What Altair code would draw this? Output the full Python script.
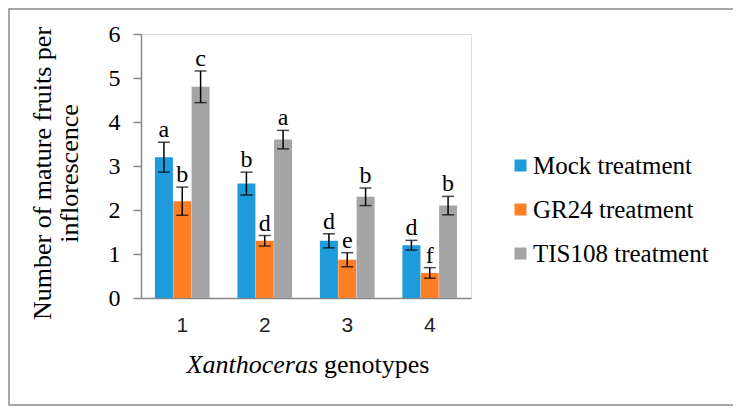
import altair as alt
import pandas as pd

genotypes = ["1", "2", "3", "4"]
treatments = ["Mock treatment", "GR24 treatment", "TIS108 treatment"]
colors = ["#1E9BDA", "#FF7F27", "#A5A5A5"]

mock = [3.2, 2.6, 1.3, 1.2]
mock_err = [0.34, 0.26, 0.16, 0.11]
mock_letters = ["a", "b", "d", "d"]

gr24 = [2.2, 1.3, 0.87, 0.57]
gr24_err = [0.32, 0.12, 0.16, 0.12]
gr24_letters = ["b", "d", "e", "f"]

tis = [4.8, 3.6, 2.3, 2.1]
tis_err = [0.36, 0.21, 0.2, 0.21]
tis_letters = ["c", "a", "b", "b"]

rows = []
for t, vals, errs, lets in zip(treatments, [mock, gr24, tis], [mock_err, gr24_err, tis_err],
                               [mock_letters, gr24_letters, tis_letters]):
    for g, v, e, l in zip(genotypes, vals, errs, lets):
        rows.append({"genotype": g, "treatment": t, "value": v, "err": e, "letter": l})
df = pd.DataFrame(rows)

SERIF = "Liberation Serif"

x = alt.X("genotype:N", sort=genotypes,
          scale=alt.Scale(paddingInner=0.3333, paddingOuter=0.1667),
          axis=alt.Axis(title=None, labelAngle=0, ticks=False, tickSize=0, labelPadding=16,
                        labelFont="Liberation Sans", labelFontSize=21, labelColor="#222222",
                        domainColor="#888888", domainWidth=1.5, grid=False))
xo = alt.XOffset("treatment:N", sort=treatments, scale=alt.Scale(paddingInner=0, paddingOuter=0))
y_axis = alt.Axis(values=[0, 1, 2, 3, 4, 5, 6], tickSize=8, tickColor="#888888", tickWidth=1.5,
                  domainColor="#888888", domainWidth=1.5, labelFont=SERIF, labelFontSize=24,
                  labelColor="#000000", labelPadding=13, grid=False,
                  title=["Number of mature fruits per", "inflorescence"],
                  titleFont=SERIF, titleFontSize=26, titleFontWeight="normal", titleColor="#000000",
                  titlePadding=26, titleLineHeight=27, titleY=139)
y = alt.Y("value:Q", scale=alt.Scale(domain=[0, 6], nice=False), axis=y_axis)

base = alt.Chart(df)

bars = base.mark_bar(size=18).encode(
    x=x, xOffset=xo, y=y,
    color=alt.Color("treatment:N", sort=treatments,
                    scale=alt.Scale(domain=treatments, range=colors),
                    legend=alt.Legend(title=None, orient="none", legendX=367, legendY=119,
                                      symbolType="square", symbolSize=144, symbolStrokeWidth=0,
                                      labelFont=SERIF, labelFontSize=25, labelColor="#000000",
                                      labelOffset=0, labelLimit=400, rowPadding=18, padding=0)),
)

calc = base.transform_calculate(lo="datum.value - datum.err", hi="datum.value + datum.err")

rules = calc.mark_rule(color="#000000", strokeWidth=1.5).encode(
    x=x, xOffset=xo, y=alt.Y("lo:Q"), y2="hi:Q")
caps_hi = calc.mark_tick(color="#000000", thickness=1.5, size=12).encode(
    x=x, xOffset=xo, y=alt.Y("hi:Q"))
caps_lo = calc.mark_tick(color="#000000", thickness=1.5, size=12).encode(
    x=x, xOffset=xo, y=alt.Y("lo:Q"))
letters = calc.mark_text(font=SERIF, fontSize=24, color="#000000", baseline="alphabetic", dy=-5).encode(
    x=x, xOffset=xo, y=alt.Y("hi:Q"), text="letter:N")

title_df = pd.DataFrame({"a": [1]})
title_it = alt.Chart(title_df).mark_text(font=SERIF, fontSize=26, fontStyle="italic", align="right",
                                         baseline="middle", color="#000000").encode(
    x=alt.value(177), y=alt.value(331), text=alt.value("Xanthoceras"))
title_rest = alt.Chart(title_df).mark_text(font=SERIF, fontSize=26, align="left",
                                           baseline="middle", color="#000000").encode(
    x=alt.value(183), y=alt.value(331), text=alt.value("genotypes"))

border = alt.Chart(title_df).mark_rect(fill=None, stroke="#8A8A8A", strokeWidth=1.5).encode(
    x=alt.value(-132), x2=alt.value(593), y=alt.value(-25), y2=alt.value(371))

chart = alt.layer(border, bars, rules, caps_hi, caps_lo, letters, title_it, title_rest).properties(
    width=330, height=264,
    autosize=alt.AutoSizeParams(type="none"),
    padding={"left": 133, "top": 26, "right": 262, "bottom": 108},
).configure_view(stroke=None).configure(background="white")

chart.save("out.html", embed_options={"renderer": "svg", "actions": False})
